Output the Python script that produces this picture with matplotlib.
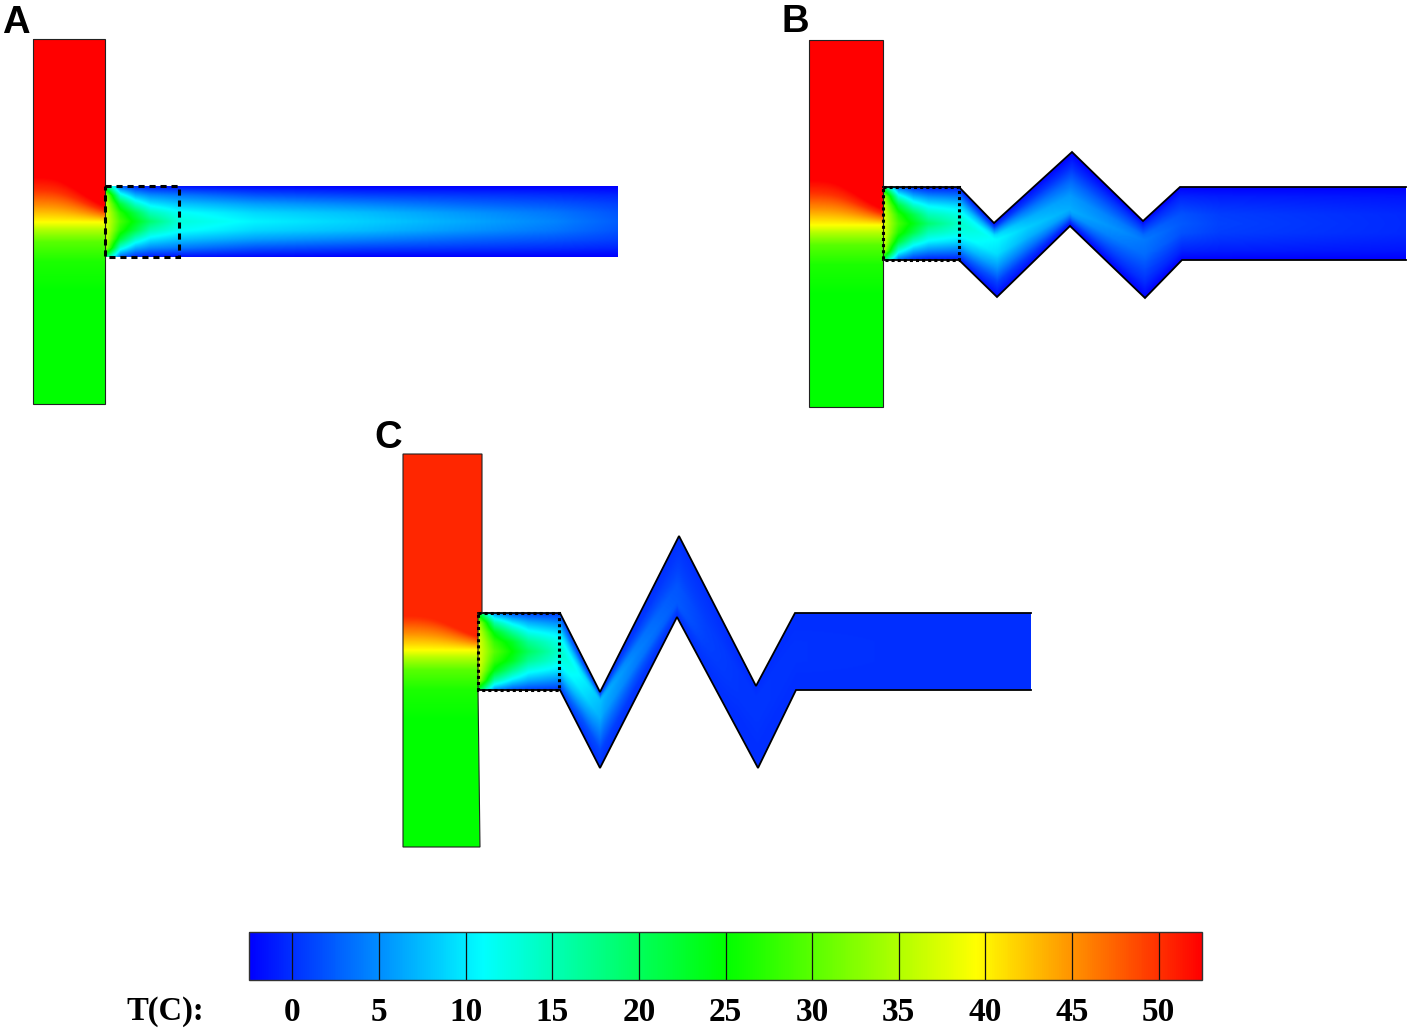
import numpy as np
import matplotlib
matplotlib.use('Agg')
import matplotlib.pyplot as plt
from matplotlib.colors import LinearSegmentedColormap, Normalize
from matplotlib.patches import Polygon, Rectangle
from matplotlib.cm import ScalarMappable

# Temperature scale
t_min, t_max = -2.5, 52.5
cb_ticks = [0, 5, 10, 15, 20, 25, 30, 35, 40, 45, 50]
cb_nodes = [-2.5, 11.0, 25.0, 39.5, 52.5]
cb_colors = ['#0000ff', '#00ffff', '#00ff00', '#ffff00', '#ff0000']

# Across-channel positions (0 = warm core, 1 = wall)
n_grid = [0, .25, .5, .75, 1]

# Panel A
a_solid = [(33, 39), (105, 39), (105, 404), (33, 404)]
a_upper = [(105, 186), (618, 186)]
a_lower = [(105, 257), (618, 257)]
a_core = [.5, .5]
a_box = (105, 186, 74, 71)
a_yellow = 222
a_s = [0, 15, 30, 45, 74, 150, 260, 360, 450, 513]
a_T = [[38, 38, 37, 35, 20], [29, 27, 22, 13, 3], [24, 21, 14, 7, 0], [19, 15, 10, 5, -1],
       [13, 11.5, 8, 4, -1.5], [10.5, 9, 6, 2, -2], [8.5, 7.5, 4.5, 1, -2.5], [6.5, 5.5, 3, 0.5, -2.5],
       [4.5, 3.8, 2, 0, -2.5], [2.5, 2, 1, -0.5, -2.5]]
a_red = 52.5

# Panel B
b_solid = [(809, 40), (883, 40), (883, 407), (809, 407)]
b_upper = [(883, 187), (959, 187), (994, 223), (1072, 152), (1143, 221), (1180, 187), (1406, 187)]
b_lower = [(883, 260), (959, 260), (997, 297), (1070, 226), (1145, 298), (1182, 260), (1406, 260)]
b_core = [.5, .5, .23, .78, .25, .5, .5]
b_box = (883, 187, 76, 73)
b_yellow = 225
b_s = [0, 15, 30, 45, 76, 125, 170, 235, 300, 360, 420, 640]
b_T = [[38, 38, 37, 35, 20], [29, 27, 22, 13, 3], [24, 21, 14, 7, 0], [19, 15, 10.5, 5, -1],
       [14, 12.5, 9, 4, -1], [11, 9.5, 5.5, 1, -2], [8.5, 7, 4, 0.5, -2], [6.5, 5.5, 3, 0, -2.5],
       [5, 4, 2, 0, -2.5], [3, 2.5, 1, -0.5, -2.5], [1, 0.8, 0, -1, -2.5], [-0.5, -0.5, -1, -1.5, -2.5]]
b_red = 52.5

# Panel C
c_solid = [(403, 454), (482, 454), (482, 613), (478, 613), (478, 690), (480, 847), (403, 847)]
c_upper = [(478, 613), (560, 613), (600, 692), (679, 536), (756, 686), (795, 613), (1031, 613)]
c_lower = [(478, 690), (560, 690), (600, 768), (677, 617), (758, 768), (796, 690), (1031, 690)]
c_core = [.5, .5, .12, .81, .2, .5, .5]
c_box = (478, 613, 81, 77)
c_yellow = 650
c_s = [0, 16, 34, 50, 80, 130, 180, 250, 330, 400, 470, 720]
c_T = [[38, 38, 37, 35, 22], [30, 28, 24, 16, 5], [25, 23, 17, 10, 2], [20, 17, 12, 7, 1],
       [14, 12.5, 9.5, 5, 0.5], [10.5, 9.5, 6, 2, 0], [7, 6, 3.5, 1, 0], [4.5, 4, 2, 0.5, 0],
       [2.5, 2.2, 1.2, 0.5, 0], [1, 0.9, 0.6, 0.3, 0], [0.4, 0.4, 0.2, 0, 0], [0, 0, 0, 0, 0]]
c_red = 50.5

# Solid block temperature against distance from the yellow line
solid_dy = [-45, -32, -16, 0, 8, 20, 40, 70, 400]
solid_T = [52.5, 50, 45, 39.5, 35, 30, 26.5, 25, 25]

panel_labels = ['A', 'B', 'C']
label_xy = [(2, 33), (782, 32), (374, 448)]
cb_title = 'T(C):'

cmap = LinearSegmentedColormap.from_list(
    'temp', [((v - t_min) / (t_max - t_min), c) for v, c in zip(cb_nodes, cb_colors)], N=512)
norm = Normalize(t_min, t_max)

fig = plt.figure(figsize=(14.09, 10.30), dpi=100, facecolor='white')
ax = fig.add_axes([0, 0, 1, 1])
ax.set_xlim(0, 1409)
ax.set_ylim(1030, 0)
ax.axis('off')


def show_field(field, x0, x1, y0, y1, poly):
    im = ax.imshow(field, extent=(x0, x1, y1, y0), cmap=cmap, norm=norm,
                   interpolation='bilinear', aspect='auto', zorder=1)
    patch = Polygon(poly, closed=True, transform=ax.transData, fc='none', ec='none')
    ax.add_patch(patch)
    im.set_clip_path(patch)


def draw_solid(poly, yellow, red):
    p = np.array(poly, float)
    x0, x1, y0, y1 = p[:, 0].min(), p[:, 0].max(), p[:, 1].min(), p[:, 1].max()
    X, Y = np.meshgrid(np.arange(x0, x1 + 1), np.arange(y0, y1 + 1))
    dy = Y - yellow
    frac = (X - x0) / (x1 - x0)
    dy = np.where(dy < 0, dy * (1 + 1.8 * frac ** 3), dy)
    show_field(np.minimum(np.interp(dy, solid_dy, solid_T), red), x0, x1, y0, y1, poly)
    ax.add_patch(Polygon(poly, closed=True, fc='none', ec='#222222', lw=0.8, zorder=3))


def draw_channel(upper, lower, core, s_tab, T_tab, outline):
    up = np.array(upper, float)
    lo = np.array(lower, float)
    poly = np.vstack([up, lo[::-1]])
    x0, x1, y0, y1 = poly[:, 0].min(), poly[:, 0].max(), poly[:, 1].min(), poly[:, 1].max()
    xs = np.arange(x0, x1 + 1)
    ys = np.arange(y0, y1 + 1)
    yu = np.interp(xs, up[:, 0], up[:, 1])
    yl = np.interp(xs, lo[:, 0], lo[:, 1])
    yc = (yu + yl) / 2
    arc = np.concatenate([[0], np.cumsum(np.hypot(np.diff(xs), np.diff(yc)))])
    vc = np.interp(xs, up[:, 0], core)
    X, Y = np.meshgrid(np.arange(xs.size), ys)
    v = np.clip((Y - yu[X]) / (yl[X] - yu[X]), 0, 1)
    c = vc[X]
    N = np.where(v < c, (c - v) / c, (v - c) / (1 - c))
    S = arc[X]
    tab = np.array(T_tab, float)
    across = np.array([np.interp(S, s_tab, tab[:, j]) for j in range(tab.shape[1])])
    pos = N * (len(n_grid) - 1)
    j = np.minimum(pos.astype(int), len(n_grid) - 2)
    w = pos - j
    rows, cols = np.indices(X.shape)
    field = across[j, rows, cols] * (1 - w) + across[j + 1, rows, cols] * w
    show_field(field, x0, x1, y0, y1, poly)
    if outline:
        ax.plot(up[:, 0], up[:, 1], color='k', lw=1.3, zorder=3, solid_joinstyle='miter')
        ax.plot(lo[:, 0], lo[:, 1], color='k', lw=1.3, zorder=3, solid_joinstyle='miter')


draw_channel(a_upper, a_lower, a_core, a_s, a_T, False)
draw_channel(b_upper, b_lower, b_core, b_s, b_T, True)
draw_channel(c_upper, c_lower, c_core, c_s, c_T, True)
draw_solid(a_solid, a_yellow, a_red)
draw_solid(b_solid, b_yellow, b_red)
draw_solid(c_solid, c_yellow, c_red)

ax.add_patch(Rectangle(a_box[:2], a_box[2], a_box[3], fc='none', ec='k', lw=2.2,
                       ls=(0, (2.0, 1.6)), zorder=4))
for box in (b_box, c_box):
    ax.add_patch(Rectangle(box[:2], box[2], box[3], fc='none', ec='k', lw=2.2,
                           ls=(0, (1.0, 1.0)), zorder=4))

for lab, xy in zip(panel_labels, label_xy):
    ax.text(xy[0], xy[1], lab, family='Liberation Sans', fontweight='bold', fontsize=27.5,
            ha='left', va='baseline', color='k', zorder=5)

cax = fig.add_axes([249 / 1409, 1 - 980 / 1030, (1202 - 249) / 1409, 48 / 1030])
cb = fig.colorbar(ScalarMappable(norm=norm, cmap=cmap), cax=cax, orientation='horizontal',
                  ticks=cb_ticks)
cb.outline.set_linewidth(1.0)
cb.outline.set_edgecolor('#333333')
cax.tick_params(axis='x', which='major', direction='in', length=34.5, width=0.9, color='#111111',
                pad=12.5, labelsize=24)
for t in cax.get_xticklabels():
    t.set_family('Liberation Serif')
    t.set_fontweight('bold')
ax.text(126, 1020, cb_title, family='Liberation Serif', fontweight='bold', fontsize=23.5,
        ha='left', va='baseline', color='k')

fig.savefig('out.png', dpi=100, facecolor='white')
